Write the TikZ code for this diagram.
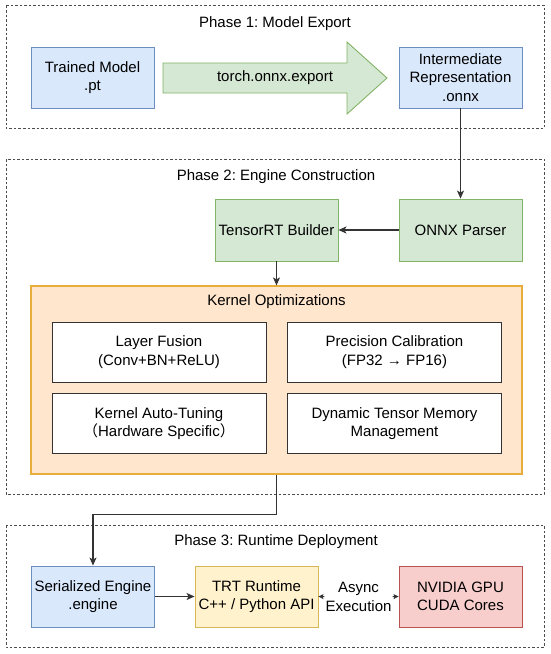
\documentclass[tikz,border=0pt]{standalone}
\usepackage{fontspec}
\setmainfont{Liberation Sans}
\newfontfamily\cjkfont{Noto Sans CJK SC}
\usetikzlibrary{positioning, arrows.meta, calc}
\frenchspacing

\begin{document}
\begin{tikzpicture}[x=1pt, y=-1pt, font=\fontsize{15}{18.5}\selectfont,
    phase/.style={draw=black!70, line width=1pt, dash pattern=on 2.5pt off 2pt},
    box/.style={draw, line width=0.9pt, minimum width=123pt, minimum height=61pt,
        align=center, inner sep=0pt},
    optbox/.style={draw=black!80, fill=white, line width=1pt, minimum width=214pt,
        minimum height=60pt, align=center, inner sep=0pt},
    conn/.style={draw=black!80, line width=1.1pt, -{Stealth[length=8pt, width=7pt, inset=2pt]}},
    thin conn/.style={draw=black!80, line width=1pt, -{Stealth[length=5pt, width=5pt, inset=1pt]}}]
    \definecolor{blfill}{HTML}{DAE8FC}\definecolor{bldraw}{HTML}{6C8EBF}
    \definecolor{grfill}{HTML}{D5E8D4}\definecolor{grdraw}{HTML}{82B366}
    \definecolor{orfill}{HTML}{FFE6CC}\definecolor{ordraw}{HTML}{E6AF3C}
    \definecolor{ylfill}{HTML}{FFF2CC}\definecolor{yldraw}{HTML}{D6B656}
    \definecolor{rdfill}{HTML}{F8CECC}\definecolor{rddraw}{HTML}{B85450}
    \useasboundingbox (0,0) rectangle (550,654);
    % phase frames
    \draw[phase] (6,5.5) rectangle (544,128);
    \draw[phase] (6,159) rectangle (544,494);
    \draw[phase] (6,525) rectangle (544,647);
    \node (ptitle1) at (275,24) {Phase 1: Model Export};
    \node (ptitle2) at (276,177) {Phase 2: Engine Construction};
    \node (ptitle3) at (276,542) {Phase 3: Runtime Deployment};
    % phase 1
    \node[box, fill=blfill, draw=bldraw] (trained) at (92.5,77.5) {Trained Model\\.pt};
    \node[box, fill=blfill, draw=bldraw] (inter) at (460.5,77.5) {Intermediate\\Representation\\.onnx};
    \fill[grfill, draw=grdraw, line width=0.9pt] (163,63) -- (347,63) -- (347,42) -- (387,78)
        -- (347,114) -- (347,93) -- (163,93) -- cycle;
    \node (export) at (275,78) {torch.onnx.export};
    % phase 2
    \node[box, fill=grfill, draw=grdraw, minimum height=62pt] (builder) at (276.5,230) {TensorRT Builder};
    \node[box, fill=grfill, draw=grdraw, minimum height=62pt] (parser) at (460.5,230) {ONNX Parser};
    \node[draw=ordraw, fill=orfill, line width=1.2pt, minimum width=491pt, minimum height=188pt,
        inner sep=0pt] (kernel) at (276.5,380) {};
    \node (ktitle) at (276.5,302) {Kernel Optimizations};
    \node[optbox] (fusion) at (159,352) {Layer Fusion\\(Conv+BN+ReLU)};
    \node[optbox] (calib) at (394.5,352) {Precision Calibration\\(FP32 → FP16)};
    \node[optbox] (tuning) at (159,423.5) {Kernel Auto-Tuning\\{\cjkfont （}Hardware Specific{\cjkfont ）}};
    \node[optbox] (memory) at (394.5,423.5) {Dynamic Tensor Memory\\Management};
    % phase 3
    \node[box, fill=blfill, draw=bldraw] (serial) at (93,596.5) {Serialized Engine\\.engine};
    \node[box, fill=ylfill, draw=yldraw] (trt) at (256.5,596.5) {TRT Runtime\\C++ / Python API};
    \node[box, fill=rdfill, draw=rddraw] (gpu) at (460.5,596.5) {NVIDIA GPU\\CUDA Cores};
    \node[align=center, inner sep=1pt] (async) at (358.5,597) {Async\\Execution};
    % connectors
    \draw[conn] (inter.south) -- (parser.north);
    \draw[conn] (parser.west) -- (builder.east);
    \draw[conn] (builder.south) -- (kernel.north);
    \draw[conn] (kernel.south) -- ++(0,40) -| (serial.north);
    \draw[conn] (serial.east) -- (trt.west);
    \draw[thin conn] (async) -- (trt.east);
    \draw[thin conn] (async) -- (gpu.west);
\end{tikzpicture}
\end{document}
